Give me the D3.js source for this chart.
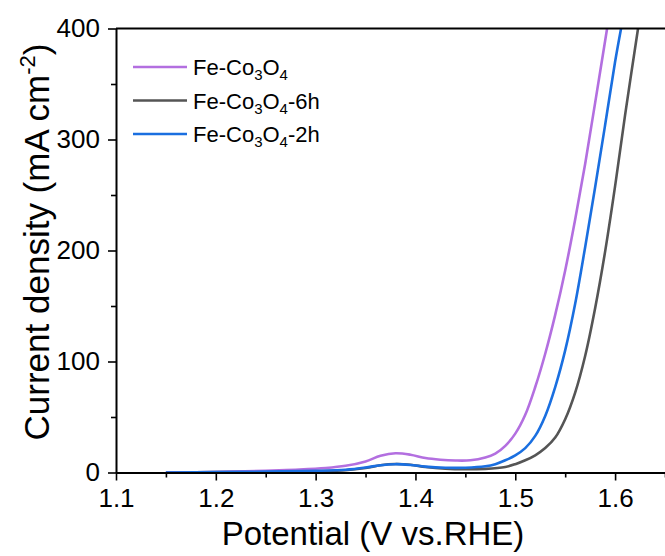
<!DOCTYPE html>
<html>
<head>
<meta charset="utf-8">
<script src="https://cdn.jsdelivr.net/npm/d3@7"></script>
<style>
  body { margin: 0; background: #fff; }
  svg { display: block; font-family: Arial, "Liberation Sans", sans-serif; }
</style>
</head>
<body>
<div id="vis"></div>
<script>
const FRAME_WIDTH = 665;
const FRAME_HEIGHT = 556;
const MARGINS = {left: 116, right: 0, top: 28.5, bottom: 83.5};
const VIS_WIDTH = FRAME_WIDTH - MARGINS.left - MARGINS.right;
const VIS_HEIGHT = FRAME_HEIGHT - MARGINS.top - MARGINS.bottom;

// data: potential (V vs. RHE) and current density (mA cm-2)
const V_FE = [1.15, 1.20, 1.25, 1.28, 1.31, 1.33, 1.35, 1.365, 1.38, 1.395, 1.41, 1.425, 1.44, 1.455, 1.47, 1.48, 1.49, 1.50, 1.51, 1.52, 1.53, 1.54, 1.55, 1.56, 1.57, 1.58, 1.592];
const J_FE = [0, 0.5, 1.5, 2.5, 4, 6, 10, 15, 17.3, 16, 13, 11.5, 10.8, 11, 13.5, 17, 24, 35, 52, 77, 107, 142, 182, 228, 278, 333, 400];

const V_6H = [1.15, 1.20, 1.25, 1.30, 1.33, 1.35, 1.365, 1.38, 1.395, 1.41, 1.43, 1.45, 1.47, 1.49, 1.50, 1.51, 1.52, 1.53, 1.54, 1.55, 1.56, 1.57, 1.58, 1.59, 1.60, 1.61, 1.623];
const J_6H = [0, 0.3, 0.8, 1.3, 2, 4, 6.5, 7.6, 7, 5, 3.4, 2.9, 3.3, 5, 7.5, 11, 15.5, 22, 31.5, 48, 72, 105, 148, 199, 258, 322, 400];

const V_2H = [1.15, 1.20, 1.25, 1.30, 1.33, 1.35, 1.365, 1.38, 1.395, 1.41, 1.43, 1.45, 1.47, 1.48, 1.49, 1.50, 1.51, 1.52, 1.53, 1.54, 1.55, 1.56, 1.57, 1.58, 1.59, 1.60, 1.606];
const J_2H = [0, 0.3, 0.8, 1.5, 2.5, 4.5, 6.6, 7.5, 6.8, 5.3, 4.3, 4.3, 5.6, 7.5, 11, 15.5, 22, 33, 51, 77, 110, 152, 203, 257, 313, 370, 400];

const SERIES = [
  {suffix: "", v: V_FE, j: J_FE, color: "#b36fe0"},
  {suffix: "-6h", v: V_6H, j: J_6H, color: "#555555"},
  {suffix: "-2h", v: V_2H, j: J_2H, color: "#1a6fe0"}
];

const X_MAJOR = [1.1, 1.2, 1.3, 1.4, 1.5, 1.6];
const X_MINOR = [1.15, 1.25, 1.35, 1.45, 1.55, 1.65];
const Y_MAJOR = [0, 100, 200, 300, 400];
const Y_MINOR = [50, 150, 250, 350];

const FRAME = d3.select("#vis")
  .append("svg")
  .attr("width", FRAME_WIDTH)
  .attr("height", FRAME_HEIGHT);

const X_SCALE = d3.scaleLinear().domain([1.1, 1.65]).range([0, VIS_WIDTH]);
const Y_SCALE = d3.scaleLinear().domain([0, 400]).range([VIS_HEIGHT, 0]);

const PLOT = FRAME.append("g")
  .attr("transform", "translate(" + MARGINS.left + "," + MARGINS.top + ")");

PLOT.append("clipPath").attr("id", "clip")
  .append("rect").attr("x", 0).attr("y", -1).attr("width", VIS_WIDTH).attr("height", VIS_HEIGHT + 1);

const line = d3.line()
  .x((d) => X_SCALE(d[0]))
  .y((d) => Y_SCALE(d[1]))
  .curve(d3.curveCatmullRom.alpha(0.5));

// draw order: grey first, then purple, blue on top
[SERIES[1], SERIES[0], SERIES[2]].forEach((s) => {
  PLOT.append("path")
    .datum(s.v.map((v, i) => [v, s.j[i]]))
    .attr("clip-path", "url(#clip)")
    .attr("fill", "none")
    .attr("stroke", s.color)
    .attr("stroke-width", 2.6)
    .attr("d", line);
});

// axes
PLOT.append("g")
  .attr("transform", "translate(0," + VIS_HEIGHT + ")")
  .call(d3.axisBottom(X_SCALE).tickValues(X_MAJOR).tickSize(8).tickSizeOuter(0).tickPadding(8).tickFormat(d3.format(".1f")));
PLOT.append("g")
  .attr("transform", "translate(0," + VIS_HEIGHT + ")")
  .call(d3.axisBottom(X_SCALE).tickValues(X_MINOR).tickSize(5).tickSizeOuter(0).tickFormat(""))
  .select(".domain").remove();

PLOT.append("g")
  .call(d3.axisLeft(Y_SCALE).tickValues(Y_MAJOR).tickSize(8).tickSizeOuter(0).tickPadding(8));
PLOT.append("g")
  .call(d3.axisLeft(Y_SCALE).tickValues(Y_MINOR).tickSize(5).tickSizeOuter(0).tickFormat(""))
  .select(".domain").remove();

PLOT.selectAll(".domain").attr("stroke", "#000").attr("stroke-width", 2);
PLOT.selectAll(".tick line").attr("stroke", "#000").attr("stroke-width", 1.6);
PLOT.selectAll(".tick text").attr("font-size", "26px").attr("fill", "#000").attr("font-family", "Arial, 'Liberation Sans', sans-serif");

// top frame line
PLOT.append("line")
  .attr("x1", 0).attr("x2", VIS_WIDTH)
  .attr("y1", 0).attr("y2", 0)
  .attr("stroke", "#000").attr("stroke-width", 2);

// axis titles
FRAME.append("text")
  .attr("x", 373).attr("y", 545)
  .attr("text-anchor", "middle")
  .attr("font-size", "33px")
  .text("Potential (V vs.RHE)");

const yTitle = FRAME.append("text")
  .attr("transform", "translate(49,242) rotate(-90)")
  .attr("text-anchor", "middle")
  .attr("font-size", "35px");
yTitle.append("tspan").text("Current density (mA cm");
yTitle.append("tspan").attr("font-size", "22px").attr("dy", -14).text("-2");
yTitle.append("tspan").attr("dy", 14).text(")");

// legend
const LEGEND = FRAME.append("g").attr("transform", "translate(133,67)");
SERIES.forEach((s, i) => {
  const row = LEGEND.append("g").attr("transform", "translate(0," + (i * 33.5) + ")");
  row.append("line").attr("x1", 0).attr("x2", 54).attr("y1", 0).attr("y2", 0)
    .attr("stroke", s.color).attr("stroke-width", 2.6);
  const t = row.append("text").attr("x", 60).attr("y", 8).attr("font-size", "22px");
  t.append("tspan").text("Fe-Co");
  t.append("tspan").attr("font-size", "15px").attr("dy", 5).text("3");
  t.append("tspan").attr("dy", -5).text("O");
  t.append("tspan").attr("font-size", "15px").attr("dy", 5).text("4");
  if (s.suffix) t.append("tspan").attr("dy", -5).text(s.suffix);
});
</script>
</body>
</html>
